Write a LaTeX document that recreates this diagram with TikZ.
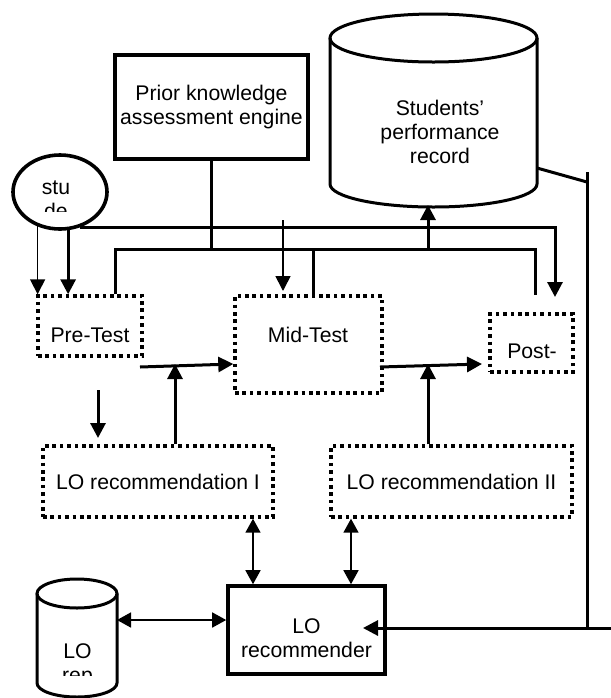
\documentclass[tikz,border=0pt]{standalone}
\usepackage{fontspec}
\setmainfont{Liberation Sans}
\usetikzlibrary{arrows.meta,calc,shapes.geometric}

\begin{document}
\begin{tikzpicture}[x = 0.5pt, y = -0.5pt, line width = 1.5pt,
    font = \fontsize{10.6}{12}\selectfont,
    solidbox/.style = {rectangle, draw, line width = 1.8pt, inner sep = 0pt, align = center},
    dotbox/.style = {rectangle, draw, line width = 1.7pt, dash pattern = on 1.8pt off 1.9pt, inner sep = 0pt},
    txt/.style = {inner sep = 0pt, align = center},
    slim/.style = {line width = 0.8pt},
    tip/.style = {-{Triangle[length = 7.5pt, width = 7.5pt]}},
    dtip/.style = {{Triangle[length = 7pt, width = 7.5pt]}-{Triangle[length = 7pt, width = 7.5pt]}}]
\useasboundingbox (0,0) rectangle (611,698);

% cylinders
\draw (330,38) -- (330,184) arc[start angle = 180, end angle = 0, x radius = 103.5, y radius = 23] -- (537,38);
\draw (433.5,38) ellipse [x radius = 103.5, y radius = 24];
\draw (37,593.5) -- (37,683) arc[start angle = 180, end angle = 0, x radius = 40, y radius = 14] -- (117,593.5);
\draw (77,593.5) ellipse [x radius = 40, y radius = 14.5];

\draw (211.5,107) node[solidbox, minimum width = 96.5pt, minimum height = 52pt](prior){Prior knowledge\\assessment engine}
    (440,131.5) node[txt](spr){Students’\\performance\\record}
    (60,192) node[ellipse, draw, line width = 1.8pt, minimum width = 47pt, minimum height = 37pt](student){}
    (90,326) node[dotbox, minimum width = 52pt, minimum height = 30pt](pre){}
    (308.5,344.5) node[dotbox, minimum width = 73.5pt, minimum height = 48.5pt](mid){}
    (531.5,343) node[dotbox, minimum width = 41.5pt, minimum height = 29pt](post){}
    (158,481.5) node[dotbox, minimum width = 115pt, minimum height = 35.5pt](lor1){LO recommendation I}
    (451.5,481.5) node[dotbox, minimum width = 120.5pt, minimum height = 35.5pt](lor2){LO recommendation II}
    (306.5,630) node[solidbox, minimum width = 78.5pt, minimum height = 44pt](lorec){}
    (90,335) node[txt](pretxt){Pre-Test}
    (308,335) node[txt](midtxt){Mid-Test}
    (532,351) node[txt](posttxt){Post-}
    (306.5,638) node[txt](lorectxt){LO\\recommender};
\begin{scope}
    \clip (0,0) rectangle (611,211);
    \node[txt] (studtxt) at (56,200) {stu\\de};
\end{scope}
\begin{scope}
    \clip (0,0) rectangle (611,675);
    \node[txt] (reptxt) at (77.5,665) {LO\\rep};
\end{scope}

\coordinate (sprin) at (428,205);
\coordinate (sprout) at (537,168);
\coordinate (postin) at (555,297);
\coordinate (busr) at (535,249);
\coordinate (busend) at (535,295);
\coordinate (midsrc) at (283,220);
\coordinate (midin) at (283,291);
\coordinate (preout) at (140,367);
\coordinate (join1) at (175,364);
\coordinate (presrc) at (98,390);
\coordinate (lor1in) at (98,438);
\coordinate (midout) at (380,367);
\coordinate (postin2) at (482,364);
\coordinate (join2) at (428,364);
\coordinate (repout) at (117,620);
\coordinate (feedtop) at (587,172);
\coordinate (edge) at (611,628);
\coordinate (lorecin) at (363,628);

% student to tests
\draw [slim, tip] (student.237) -- (student.237 |- pre.north);
\draw [tip] (student.282) -- (student.282 |- pre.north);
\draw [tip] (student.299) -| (postin);
\draw (115,0 |- pre.north) |- (busr) -- (busend);
\draw (prior) -- (prior |- busr);
\draw (313,0 |- busr) -- (313,0 |- mid.north);
\draw [tip] (sprin |- busr) -- (sprin);
\draw [slim, tip] (midsrc) -- (midin);
% tests and recommendations
\draw [tip] (preout) -- ($(mid.west)+(0,19.5)$);
\draw [tip] (lor1.north -| join1) -- (join1);
\draw [tip] (presrc) -- (lor1in);
\draw [tip] (midout) -- (postin2);
\draw [tip] (lor2.north -| join2) -- (join2);
\draw [slim, dtip] (lor1.south -| 253,0) -- (lorec.north -| 253,0);
\draw [slim, dtip] (lor2.south -| 351,0) -- (lorec.north -| 351,0);
\draw [slim, dtip] (repout) -- (repout -| lorec.west);
% feedback from record
\draw (sprout) -- ($(feedtop)+(0,10)$);
\draw (feedtop) -- (feedtop |- edge);
\draw [tip] (edge) -- (lorecin);
\end{tikzpicture}
\end{document}
